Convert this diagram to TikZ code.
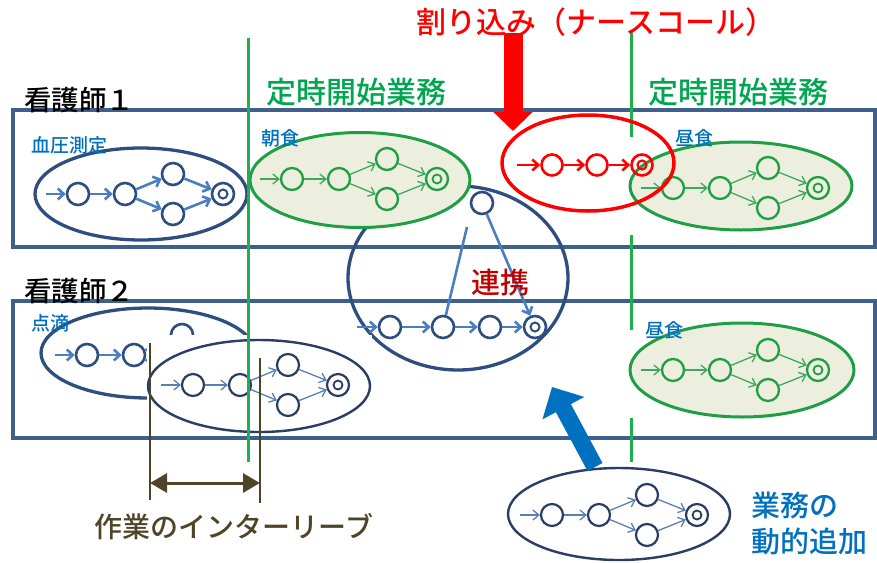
\documentclass[tikz,border=0pt]{standalone}
\usepackage{fontspec}
\newfontfamily\jp{Noto Sans CJK JP Medium}
\usetikzlibrary{arrows.meta,shapes.geometric}
\definecolor{lanec}{HTML}{3F608C}
\definecolor{cnavy}{HTML}{2E4E7F}
\definecolor{cblue}{HTML}{4A7EC0}
\definecolor{cdark}{HTML}{2A3D62}
\definecolor{cblue2}{HTML}{5A7FB3}
\definecolor{cgreen}{HTML}{1E9E45}
\definecolor{cgreenA}{HTML}{3FA760}
\definecolor{gfill}{HTML}{ECEFDD}
\definecolor{tgreen}{HTML}{00A550}
\definecolor{vgreen}{HTML}{1DB04B}
\definecolor{tblue}{HTML}{0070C0}
\definecolor{tred}{HTML}{C00000}
\definecolor{olive}{HTML}{4F4427}
\newcommand\wflow[6]{%
 \node[#4] (#1a) at (#2,#3) {};
 \node[#4] (#1b) at ({#2+47},#3) {};
 \node[#4] (#1c) at ({#2+95},{#3-20}) {};
 \node[#4] (#1d) at ({#2+95},{#3+20}) {};
 \node[#4] (#1f) at ({#2+145},#3) {};
 \node[#6] (#1g) at (#1f.center) {};
 \coordinate (#1e) at ({#2-32},#3);
 \draw[#5] (#1e) -- (#1a);
 \draw[#5] (#1a) -- (#1b);
 \draw[#5] (#1b) -- (#1c);
 \draw[#5] (#1b) -- (#1d);
 \draw[#5] (#1c) -- (#1f);
 \draw[#5] (#1d) -- (#1f);
}
\begin{document}
\begin{tikzpicture}[x=1pt,y=-1pt,
  lanebox/.style={draw=lanec,line width=4pt,rectangle,inner sep=0,minimum width=862pt,minimum height=137pt},
  bigell/.style={ellipse,inner sep=0},
  stA/.style={circle,draw=cnavy,line width=2.6pt,minimum size=22pt,inner sep=0},
  inA/.style={circle,draw=cnavy,line width=2pt,minimum size=9pt,inner sep=0},
  arA/.style={draw=cblue,line width=2.6pt,-{Straight Barb[length=6pt,width=11pt]}},
  stG/.style={circle,draw=cgreen,line width=2.3pt,minimum size=22pt,inner sep=0},
  inG/.style={circle,draw=cgreen,line width=1.8pt,minimum size=9pt,inner sep=0},
  arG/.style={draw=cgreenA,line width=1.3pt,-{Straight Barb[length=6pt,width=10pt]}},
  stN/.style={circle,draw=cdark,line width=2.2pt,minimum size=22pt,inner sep=0},
  inN/.style={circle,draw=cdark,line width=1.8pt,minimum size=9pt,inner sep=0},
  arN/.style={draw=cblue2,line width=1.3pt,-{Straight Barb[length=6pt,width=10pt]}},
  stR/.style={circle,draw=red,line width=2.6pt,minimum size=21pt,inner sep=0},
  arR/.style={draw=red,line width=2.6pt,-{Straight Barb[length=6pt,width=11pt]}},
  txt/.style={inner sep=0,font=\jp},
  vline/.style={draw=vgreen,line width=3pt},
  dim/.style={draw=olive,line width=2.5pt}]
\useasboundingbox (0,0) rectangle (877,562);
% lanes
\node[lanebox] (lane1) at (444,178.5) {};
\node[lanebox] (lane2) at (444,369) {};
% renkei ellipse
\node[bigell,draw=cnavy,line width=3.3pt,minimum width=220pt,minimum height=184pt] (rk) at (458,278) {};
\node[stA] (rka) at (390,327) {};
\node[stA] (rkb) at (443,327) {};
\node[stA] (rkc) at (490,327) {};
\node[stA] (rkf) at (535,327) {};
\node[inA] (rkg) at (rkf.center) {};
\node[stA] (rkt) at (482,203) {};
\coordinate (rke) at (357,327);
\coordinate (rkm) at (467,227);
\draw[arA] (rke) -- (rka);
\draw[arA] (rka) -- (rkb);
\draw[arA] (rkb) -- (rkc);
\draw[arA] (rkc) -- (rkf);
\draw[draw=cblue,line width=2.6pt] (rkb) -- (rkm);
\draw[arA] (rkt) -- (rkf);
% blood pressure
\node[bigell,draw=cnavy,line width=3.3pt,minimum width=212pt,minimum height=92pt] (bp) at (141,194) {};
\wflow{bp}{78}{194}{stA}{arA}{inA}
% drip
\node[bigell,draw=cnavy,line width=3.3pt,minimum width=214pt,minimum height=90pt] (dr) at (148,353) {};
\wflow{dr}{87}{355}{stA}{arA}{inA}
% interleave
\node[fill=white,inner sep=0,minimum width=225pt,minimum height=98pt] (cover) at (259.5,384) {};
\node[bigell,draw=cdark,line width=2.4pt,fill=white,minimum width=222pt,minimum height=92pt] (il) at (259,386) {};
\wflow{il}{193}{385}{stN}{arN}{inN}
% breakfast
\node[bigell,draw=cgreen,line width=3pt,fill=gfill,minimum width=220pt,minimum height=95pt] (bf) at (360,180) {};
\wflow{bf}{292}{179}{stG}{arG}{inG}
% lunch 1
\node[bigell,draw=cgreen,line width=3pt,fill=gfill,minimum width=222pt,minimum height=88pt] (l1) at (741,186) {};
\wflow{lo}{673}{188}{stG}{arG}{inG}
% lunch 2
\node[bigell,draw=cgreen,line width=3pt,fill=gfill,minimum width=224pt,minimum height=94pt] (l2) at (742,370) {};
\wflow{lt}{673}{370}{stG}{arG}{inG}
% dynamic add
\node[bigell,draw=cdark,line width=2.4pt,fill=white,minimum width=222pt,minimum height=92pt] (da) at (619,514) {};
\wflow{da}{552}{515}{stN}{arN}{inN}
% dashed green line
\coordinate (g1) at (631,33); \coordinate (g2) at (631,137);
\coordinate (g3) at (631,235); \coordinate (g4) at (631,330);
\coordinate (g5) at (631,418); \coordinate (g6) at (631,462);
\draw[vline] (g1) -- (g2); \draw[vline] (g3) -- (g4); \draw[vline] (g5) -- (g6);
% interrupt
\node[bigell,draw=red,line width=3.5pt,minimum width=172pt,minimum height=96pt] (ir) at (588,163) {};
\node[stR] (ira) at (552,165) {};
\node[stR] (irb) at (597,165) {};
\node[stR] (irf) at (642,165) {};
\node[circle,draw=red,line width=2.2pt,minimum size=9pt,inner sep=0] (irg) at (irf.center) {};
\coordinate (ire) at (517,165);
\draw[arR] (ire) -- (ira);
\draw[arR] (ira) -- (irb);
\draw[arR] (irb) -- (irf);
% green time line
\coordinate (v1) at (248,38); \coordinate (v2) at (248,462);
\draw[vline] (v1) -- (v2);
% big arrows
\coordinate (ra) at (513,33); \coordinate (rb) at (513,131);
\draw[draw=red,line width=19pt,-{Triangle[length=19pt,width=38pt]}] (ra) -- (rb);
\coordinate (ba) at (595,467); \coordinate (bb) at (552,387);
\draw[draw=tblue,line width=17pt,-{Triangle[length=24pt,width=46pt]}] (ba) -- (bb);
% interleave dimension
\coordinate (d1) at (150,343); \coordinate (d2) at (150,500);
\coordinate (d3) at (260,358); \coordinate (d4) at (260,503);
\draw[dim] (d1) -- (d2); \draw[dim] (d3) -- (d4);
\coordinate (d5) at (150,483); \coordinate (d6) at (260,483);
\draw[draw=olive,line width=3pt,{Triangle[length=17pt,width=19pt]}-{Triangle[length=17pt,width=19pt]}] (d5) -- (d6);
% texts
\node[txt,anchor=west,font=\jp\fontsize{27.5}{28}\selectfont] (n1) at (24,100) {看護師１};
\node[txt,anchor=west,font=\jp\fontsize{27.5}{28}\selectfont] (n2) at (24,291) {看護師２};
\node[txt,text=tgreen,font=\jp\fontsize{30}{30}\selectfont] (t1) at (356,92) {定時開始業務};
\node[txt,text=tgreen,font=\jp\fontsize{30}{30}\selectfont] (t2) at (738,92) {定時開始業務};
\node[txt,text=red,font=\jp\fontsize{30}{30}\selectfont] (t3) at (596,22) {割り込み（ナースコール）};
\node[txt,text=tred,font=\jp\fontsize{29}{29}\selectfont] (t4) at (500,283) {連携};
\node[txt,text=olive,font=\jp\fontsize{28}{28}\selectfont] (t5) at (234,527) {作業のインターリーブ};
\node[txt,anchor=west,text=tblue,font=\jp\fontsize{29}{29}\selectfont] (t6) at (751,505) {業務の};
\node[txt,anchor=west,text=tblue,font=\jp\fontsize{29}{29}\selectfont] (t7) at (751,542) {動的追加};
\node[txt,anchor=west,text=tblue,font=\jp\fontsize{19}{19}\selectfont] (s1) at (31,145) {血圧測定};
\node[txt,anchor=west,text=tblue,font=\jp\fontsize{19}{19}\selectfont] (s2) at (261,138) {朝食};
\node[txt,anchor=west,text=tblue,font=\jp\fontsize{19}{19}\selectfont] (s3) at (675,138) {昼食};
\node[txt,anchor=west,text=tblue,font=\jp\fontsize{19}{19}\selectfont] (s4) at (645,330) {昼食};
\node[txt,anchor=west,text=tblue,font=\jp\fontsize{19}{19}\selectfont] (s5) at (31,323) {点滴};
\end{tikzpicture}
\end{document}
